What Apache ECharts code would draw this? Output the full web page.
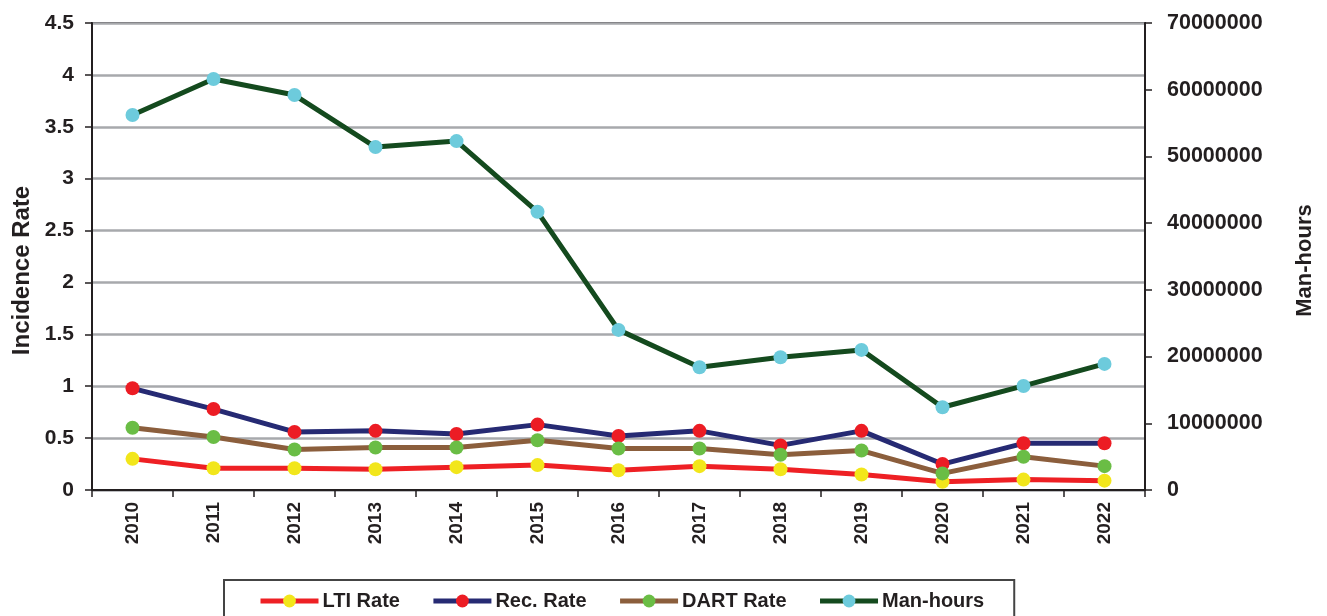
<!DOCTYPE html>
<html><head><meta charset="utf-8">
<script src="https://cdn.jsdelivr.net/npm/echarts@6/dist/echarts.min.js"></script>
<style>html,body{margin:0;padding:0;background:#fff}#c{width:1327px;height:616px}</style>
</head><body><div id="c"></div>
<script>
const years = ['2010','2011','2012','2013','2014','2015','2016','2017','2018','2019','2020','2021','2022'];
const ltiRate = [0.30,0.21,0.21,0.20,0.22,0.24,0.19,0.23,0.20,0.15,0.08,0.10,0.09];
const recRate = [0.98,0.78,0.56,0.57,0.54,0.63,0.52,0.57,0.43,0.57,0.25,0.45,0.45];
const dartRate = [0.60,0.51,0.39,0.41,0.41,0.48,0.40,0.40,0.34,0.38,0.16,0.32,0.23];
const manHours = [56200000,61600000,59200000,51400000,52300000,41700000,24000000,18400000,19900000,21000000,12400000,15600000,18900000];

const FONT = "'Liberation Sans', Arial, sans-serif";
const TXT = '#231f20';
function mk(name, data, lineColor, dotColor, axis) {
  return {
    name, type: 'line', data, yAxisIndex: axis,
    symbol: 'circle', symbolSize: 14, showSymbol: true,
    lineStyle: { color: lineColor, width: 5 },
    itemStyle: { color: dotColor, borderWidth: 0 },
    color: lineColor,
    animation: false
  };
}
const chart = echarts.init(document.getElementById('c'), null, { renderer: 'canvas' });
chart.setOption({
  animation: false,
  textStyle: { fontFamily: FONT },
  grid: { left: 92, right: 182, top: 23, bottom: 126, show: true, borderColor: TXT, borderWidth: 2, backgroundColor: 'transparent' },
  legend: {
    left: 224, top: 580,
    padding: [11, 30, 30, 34],
    itemGap: 31, itemWidth: 58, itemHeight: 16,
    borderColor: '#444', borderWidth: 2,
    lineStyle: { width: 5 },
    textStyle: { fontFamily: FONT, fontWeight: 'bold', fontSize: 20, color: TXT, padding: [0,0,0,-1] },
    data: ['LTI Rate','Rec. Rate','DART Rate','Man-hours']
  },
  xAxis: {
    type: 'category', data: years, boundaryGap: true,
    axisLine: { lineStyle: { color: TXT, width: 2 } },
    axisTick: { show: true, length: 7, lineStyle: { color: TXT, width: 1.5 }, alignWithLabel: false },
    axisLabel: { rotate: 90, margin: 12, fontFamily: FONT, fontWeight: 'bold', fontSize: 19, color: TXT, interval: 0 },
    splitLine: { show: false }
  },
  yAxis: [
    {
      type: 'value', min: 0, max: 4.5, interval: 0.5, position: 'left',
      name: 'Incidence Rate', nameLocation: 'middle', nameGap: 58, nameRotate: 90,
      nameTextStyle: { fontFamily: FONT, fontWeight: 'bold', fontSize: 24, color: TXT, padding: [0, 28, 0, 0] },
      axisLine: { show: true, lineStyle: { color: TXT, width: 2 } },
      axisTick: { show: true, length: 7, lineStyle: { color: TXT, width: 1.5 } },
      axisLabel: { margin: 18, fontFamily: FONT, fontWeight: 'bold', fontSize: 21, color: TXT },
      splitLine: { show: true, lineStyle: { color: '#a7a9ac', width: 2.5 } }
    },
    {
      type: 'value', min: 0, max: 70000000, interval: 10000000, position: 'right',
      name: 'Man-hours', nameLocation: 'middle', nameGap: 149, nameRotate: 90,
      nameTextStyle: { fontFamily: FONT, fontWeight: 'bold', fontSize: 22, color: TXT, padding: [0, 8, 0, 0] },
      axisLine: { show: true, lineStyle: { color: TXT, width: 2 } },
      axisTick: { show: true, length: 7, lineStyle: { color: TXT, width: 1.5 } },
      axisLabel: { margin: 22, fontFamily: FONT, fontWeight: 'bold', fontSize: 21.5, color: TXT, formatter: v => String(v) },
      splitLine: { show: false }
    }
  ],
  series: [
    mk('LTI Rate', ltiRate, '#ee2024', '#f2e61b', 0),
    mk('Rec. Rate', recRate, '#262a73', '#ec1c24', 0),
    mk('DART Rate', dartRate, '#8b5e3c', '#6abd45', 0),
    mk('Man-hours', manHours, '#144a1e', '#6dcbdc', 1)
  ]
});
</script></body></html>
